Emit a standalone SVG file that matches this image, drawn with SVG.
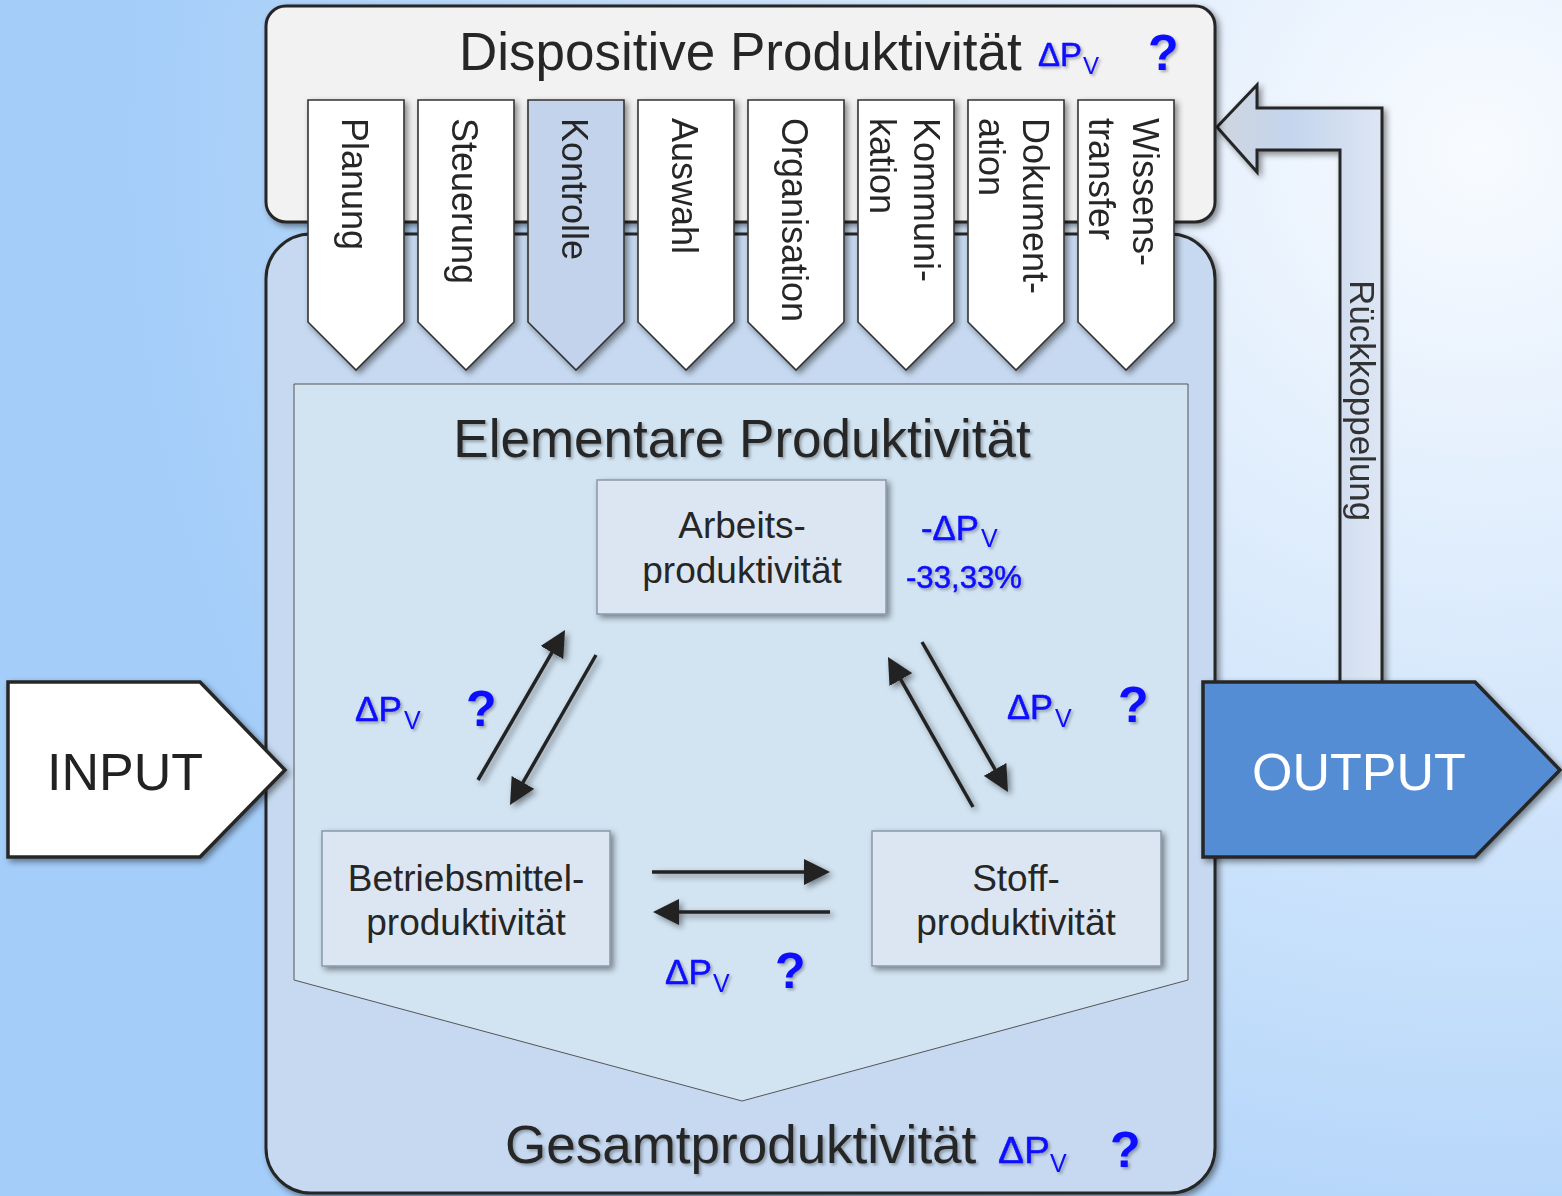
<svg xmlns="http://www.w3.org/2000/svg" width="1562" height="1196" viewBox="0 0 1562 1196">
<style>
text{font-family:"Liberation Sans",Arial,sans-serif}
.big{font-size:53px;fill:#262626}
.tab{font-size:36px;fill:#262626}
.box{font-size:37px;fill:#262626;text-anchor:middle}
.lbl{font-size:35px;fill:#0a0aff;stroke:#0a0aff;stroke-width:0.5}
.sub{font-size:25px;fill:#0a0aff}
.q{font-size:50px;font-weight:bold;fill:#0a0aff}
.tabshape{fill:#ffffff;stroke:#333333;stroke-width:1.6}
.ebox{fill:#dce6f2;stroke:#8a97a8;stroke-width:1.5}
.conn{stroke:#222222;stroke-width:3.5;fill:none;marker-end:url(#ah)}
</style>
<defs>
<radialGradient id="bg" cx="1480" cy="150" r="1350" gradientUnits="userSpaceOnUse">
<stop offset="0" stop-color="#f8fbff"/>
<stop offset="0.35" stop-color="#dcebfc"/>
<stop offset="1" stop-color="#a4cdf9"/>
</radialGradient>
<linearGradient id="fb" x1="1217" y1="0" x2="1382" y2="0" gradientUnits="userSpaceOnUse">
<stop offset="0" stop-color="#cfd5de"/>
<stop offset="0.45" stop-color="#c4d5ee"/>
<stop offset="1" stop-color="#dde6f3"/>
</linearGradient>
<filter id="sh" x="-20%" y="-20%" width="140%" height="140%">
<feDropShadow dx="3" dy="3" stdDeviation="3" flood-color="#000" flood-opacity="0.45"/>
</filter>
<filter id="tsh" x="-10%" y="-20%" width="120%" height="140%">
<feDropShadow dx="2" dy="2" stdDeviation="1.5" flood-color="#000" flood-opacity="0.3"/>
</filter>
<marker id="ah" viewBox="0 0 26 26" markerWidth="26" markerHeight="26" markerUnits="userSpaceOnUse" refX="14" refY="13" orient="auto">
<path d="M0,0 L26,13 L0,26 Z" fill="#222222"/>
</marker>
</defs>

<rect x="0" y="0" width="1562" height="1196" fill="url(#bg)"/>

<g id="feedback" filter="url(#sh)">
<polygon points="1217,127 1257,85 1257,108 1382,108 1382,683 1340,683 1340,150 1257,150 1257,172" fill="url(#fb)" stroke="#262626" stroke-width="3"/>
<text class="tab" style="font-size:35px;fill:#333" transform="translate(1350,280) rotate(90)">Rückkoppelung</text>
</g>

<g id="gesamt">
<rect x="266" y="234" width="949" height="959" rx="45" fill="#c6d9f0" stroke="#262626" stroke-width="3" filter="url(#sh)"/>
<text class="big" x="505" y="1163" filter="url(#tsh)">Gesamtproduktivität</text>
<g filter="url(#tsh)">
<text class="lbl" style="font-size:37px" x="998" y="1163" textLength="52" lengthAdjust="spacingAndGlyphs">ΔP</text>
<text class="sub" x="1050" y="1172">V</text>
<text class="q" x="1110" y="1167">?</text>
</g>
</g>

<g id="elementar">
<polygon points="294,384 1188,384 1188,980 742,1101 294,980" fill="#d2e4f2" stroke="#555" stroke-width="1"/>
<text class="big" x="742" y="457" text-anchor="middle" filter="url(#tsh)">Elementare Produktivität</text>
</g>

<g id="dispositiv">
<rect x="266" y="6" width="949" height="216" rx="20" fill="#f2f2f2" stroke="#262626" stroke-width="3" filter="url(#sh)"/>
<text class="big" x="459" y="70">Dispositive Produktivität</text>
<g filter="url(#tsh)">
<text class="lbl" style="font-size:33px" x="1038" y="66" textLength="44" lengthAdjust="spacingAndGlyphs">ΔP</text>
<text class="sub" style="font-size:24px" x="1083" y="74">V</text>
<text class="q" x="1148" y="70">?</text>
</g>
</g>

<g id="tabs" filter="url(#sh)">
<g id="tab-planung"><path class="tabshape" d="M308,100 H404 V322 L356,370 L308,322 Z"/><text class="tab" transform="translate(342,118) rotate(90)">Planung</text></g>
<g id="tab-steuerung"><path class="tabshape" d="M418,100 H514 V322 L466,370 L418,322 Z"/><text class="tab" transform="translate(452,118) rotate(90)">Steuerung</text></g>
<g id="tab-kontrolle"><path class="tabshape" style="fill:#c3d3ec" d="M528,100 H624 V322 L576,370 L528,322 Z"/><text class="tab" transform="translate(562,118) rotate(90)">Kontrolle</text></g>
<g id="tab-auswahl"><path class="tabshape" d="M638,100 H734 V322 L686,370 L638,322 Z"/><text class="tab" transform="translate(672,118) rotate(90)">Auswahl</text></g>
<g id="tab-organisation"><path class="tabshape" d="M748,100 H844 V322 L796,370 L748,322 Z"/><text class="tab" transform="translate(782,118) rotate(90)">Organisation</text></g>
<g id="tab-kommunikation"><path class="tabshape" d="M858,100 H954 V322 L906,370 L858,322 Z"/><text class="tab" transform="translate(914,118) rotate(90)"><tspan x="0" y="0">Kommuni-</tspan><tspan x="0" y="44">kation</tspan></text></g>
<g id="tab-dokumentation"><path class="tabshape" d="M968,100 H1064 V322 L1016,370 L968,322 Z"/><text class="tab" transform="translate(1023,118) rotate(90)"><tspan x="0" y="0">Dokument-</tspan><tspan x="0" y="44">ation</tspan></text></g>
<g id="tab-wissenstransfer"><path class="tabshape" d="M1078,100 H1174 V322 L1126,370 L1078,322 Z"/><text class="tab" transform="translate(1133,118) rotate(90)"><tspan x="0" y="0">Wissens-</tspan><tspan x="0" y="44">transfer</tspan></text></g>
</g>

<g id="arbeit">
<rect class="ebox" x="597" y="480" width="289" height="134" filter="url(#sh)"/>
<text class="box" x="742" y="538">Arbeits-</text>
<text class="box" x="742" y="583">produktivität</text>
</g>
<g id="betriebsmittel">
<rect class="ebox" x="322" y="831" width="288" height="135" filter="url(#sh)"/>
<text class="box" x="466" y="891">Betriebsmittel-</text>
<text class="box" x="466" y="935">produktivität</text>
</g>
<g id="stoff">
<rect class="ebox" x="872" y="831" width="289" height="135" filter="url(#sh)"/>
<text class="box" x="1016" y="891">Stoff-</text>
<text class="box" x="1016" y="935">produktivität</text>
</g>

<g id="connectors" filter="url(#sh)">
<line class="conn" x1="478" y1="780" x2="559" y2="640.4"/>
<line class="conn" x1="596" y1="655" x2="516" y2="794.6"/>
<line class="conn" x1="973" y1="807" x2="893.9" y2="667.4"/>
<line class="conn" x1="922" y1="642" x2="1002" y2="781.6"/>
<line class="conn" x1="652" y1="872" x2="818" y2="872"/>
<line class="conn" x1="830" y1="912" x2="665" y2="912"/>
</g>

<g id="labels" filter="url(#tsh)">
<text class="lbl" x="921" y="540" textLength="58" lengthAdjust="spacingAndGlyphs">-ΔP</text>
<text class="sub" x="981" y="547">V</text>
<text class="lbl" style="font-size:32px" x="906" y="588" textLength="116" lengthAdjust="spacingAndGlyphs">-33,33%</text>
<text class="lbl" x="355" y="721" textLength="47" lengthAdjust="spacingAndGlyphs">ΔP</text>
<text class="sub" x="404" y="729">V</text>
<text class="q" x="466" y="726">?</text>
<text class="lbl" x="1007" y="719" textLength="46" lengthAdjust="spacingAndGlyphs">ΔP</text>
<text class="sub" x="1055" y="727">V</text>
<text class="q" x="1118" y="722">?</text>
<text class="lbl" x="665" y="984" textLength="47" lengthAdjust="spacingAndGlyphs">ΔP</text>
<text class="sub" x="713" y="992">V</text>
<text class="q" x="775" y="988">?</text>
</g>

<g id="input">
<polygon points="8,682 200,682 285,770 200,857 8,857" fill="#ffffff" stroke="#262626" stroke-width="3.5" filter="url(#sh)"/>
<text class="big" style="font-size:52px;fill:#222" x="47" y="790">INPUT</text>
</g>

<g id="output">
<polygon points="1203,682 1475,682 1560,770 1475,857 1203,857" fill="#548dd4" stroke="#262626" stroke-width="3.5" filter="url(#sh)"/>
<text class="big" style="font-size:52px;fill:#ffffff" x="1252" y="790">OUTPUT</text>
</g>
</svg>
